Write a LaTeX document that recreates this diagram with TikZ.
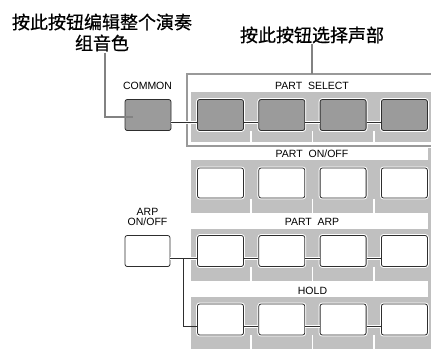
\documentclass[tikz,border=0pt]{standalone}
\usepackage{fontspec}
\setsansfont{Liberation Sans}
\newfontfamily\cjk{Noto Sans CJK SC}[FakeBold=0.7]
\usetikzlibrary{positioning, calc}

\definecolor{panelgray}{HTML}{C0C0C0}
\definecolor{framegray}{HTML}{999999}
\definecolor{keygray}{HTML}{9B9B9B}
\definecolor{linedark}{HTML}{2E2E2E}

\tikzset{
  key/.style={draw=linedark, line width=0.8pt, rounded corners=2.2pt,
    minimum width=46pt, minimum height=31pt, inner sep=0pt,
    preaction={draw=white, line width=2.8pt}},
  keyon/.style={key, fill=keygray},
  keyoff/.style={key, fill=white},
  paneltext/.style={font=\sffamily\fontsize{10.5}{10.5}\selectfont, inner sep=0pt},
  calltext/.style={font=\cjk\fontsize{18}{21}\selectfont, inner sep=0pt, align=center},
  wire/.style={linedark, line width=0.8pt, preaction={draw=white, line width=3pt}},
  callout/.style={framegray!85!black, line width=1.6pt},
  divider/.style={white, line width=1.6pt}
}

\begin{document}
\begin{tikzpicture}[x=1pt, y=-1pt]
    \useasboundingbox (0,0) rectangle (431,349);
    \clip (0,0) rectangle (431,349);

    % Callout texts
    \node[calltext] (editcall) at (102,32.5) {按此按钮编辑整个演奏\\组音色};
    \node[calltext] (selcall) at (312,35) {按此按钮选择声部};

    % PART SELECT frame and panel
    \draw[framegray, line width=1.4pt, fill=white] (187,74) rectangle (445,146);
    \fill[panelgray] (191,92) rectangle (431,142);
    \coordinate (frametop) at (312,74);

    % Lower panels with label strips
    \fill[panelgray] (191,148) rectangle (431,349);
    \fill[white] (189,147.5) rectangle (428,160);
    \fill[white] (189,213) rectangle (428,229);
    \fill[white] (189,281) rectangle (428,297);

    % Dividers under the keys
    \foreach \x in {251.2,312.5,373.8} {
        \draw[divider] (\x,131) -- (\x,142);
        \draw[divider] (\x,198.5) -- (\x,213);
        \draw[divider] (\x,266.5) -- (\x,281);
        \draw[divider] (\x,335) -- (\x,349);
    }

    % Panel labels
    \node[paneltext] (sellabel) at (312,86) {PART\ \ SELECT};
    \node[paneltext] (onofflabel) at (312,153.5) {PART\ \ ON/OFF};
    \node[paneltext] (arplabel) at (312,222) {PART\ \ ARP};
    \node[paneltext] (holdlabel) at (312.5,291) {HOLD};
    \node[paneltext] (commonlabel) at (147.5,86) {COMMON};
    \node[paneltext, align=center] (arponofflabel) at (147.5,217) {ARP\\ON/OFF};

    % Keys
    \node[keyon] (common) at (148,115) {};
    \node[keyoff, minimum width=45pt] (arponoff) at (147.5,251) {};
    \foreach \i/\x in {1/220.5,2/281.8,3/343.1,4/404.4} {
        \node[keyon] (sel\i) at (\x,115) {};
        \node[keyoff, minimum height=30pt] (onoff\i) at (\x,183) {};
        \node[keyoff] (arp\i) at (\x,251) {};
        \node[keyoff] (hold\i) at (\x,319.5) {};
    }

    % Links between keys
    \draw[wire] ([yshift=-7pt]common.east) -- ([yshift=-7pt]sel1.west);
    \draw[wire] ([yshift=-7pt]arponoff.east) -- ([yshift=-7pt]arp1.west);
    \coordinate (branch) at (183,258);
    \draw[linedark, line width=0.8pt] (branch) |- ([yshift=-7pt]hold1.west);
    \foreach \a/\b in {1/2,2/3,3/4} {
        \draw[wire] ([yshift=-7pt]sel\a.east) -- ([yshift=-7pt]sel\b.west);
        \draw[wire] ([yshift=-7pt]arp\a.east) -- ([yshift=-7pt]arp\b.west);
        \draw[wire] ([yshift=-7pt]hold\a.east) -- ([yshift=-7pt]hold\b.west);
    }

    % Callout lines
    \draw[callout] ([xshift=3pt, yshift=-1pt]editcall.south) |- ([xshift=8pt, yshift=-2pt]common.west);
    \draw[callout] (selcall.south) -- (frametop);
\end{tikzpicture}
\end{document}
